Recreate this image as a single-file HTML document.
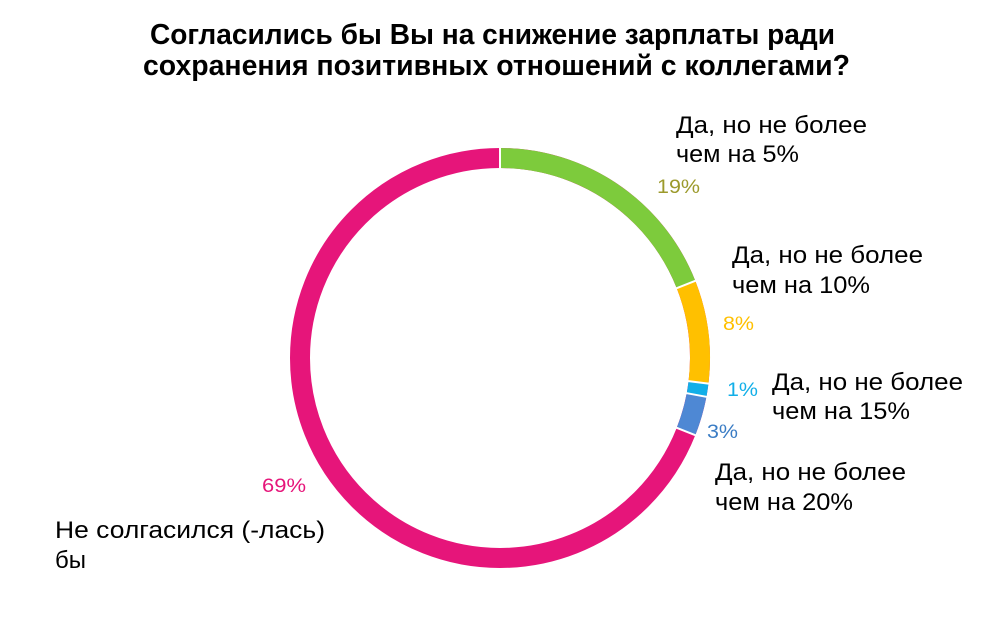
<!DOCTYPE html>
<html><head><meta charset="utf-8"><style>
body{margin:0;width:1000px;height:630px;background:#fff;overflow:hidden}
svg text{font-family:"Liberation Sans",Arial,sans-serif}
</style></head><body>
<svg width="1000" height="630" viewBox="0 0 1000 630">
<text x="150" y="44" font-size="29" font-weight="bold" fill="#000" textLength="685" lengthAdjust="spacingAndGlyphs">Согласились бы Вы на снижение зарплаты ради</text>
<text x="143" y="75" font-size="29" font-weight="bold" fill="#000" textLength="707" lengthAdjust="spacingAndGlyphs">сохранения позитивных отношений с коллегами?</text>
<g transform="translate(500,358) rotate(-90)" fill="none" stroke-width="20">
<circle r="200" stroke="#e6157a"/>
<path d="M200,0 A200,200 0 0 1 73.5,186.0" stroke="#7dcb3c"/>
<path d="M73.5,186.0 A200,200 0 0 1 -24.4,198.5" stroke="#ffc000"/>
<path d="M-24.4,198.5 A200,200 0 0 1 -37.0,196.6" stroke="#12afe8"/>
<path d="M-37.0,196.6 A200,200 0 0 1 -73.5,186.0" stroke="#4e88d4"/>
<g stroke="#fff" stroke-width="2">
<line x1="188" y1="0" x2="212" y2="0"/>
<line x1="69.1" y1="174.8" x2="77.9" y2="197.2"/>
<line x1="-22.9" y1="186.6" x2="-25.9" y2="210.4"/>
<line x1="-34.8" y1="184.8" x2="-39.2" y2="208.4"/>
<line x1="-69.1" y1="174.8" x2="-77.9" y2="197.2"/>
</g>
</g>
<g font-size="24" fill="#000">
<text x="676" y="133" textLength="191" lengthAdjust="spacingAndGlyphs">Да, но не более</text>
<text x="676" y="162" textLength="123" lengthAdjust="spacingAndGlyphs">чем на 5%</text>
<text x="732" y="263" textLength="191" lengthAdjust="spacingAndGlyphs">Да, но не более</text>
<text x="732" y="293" textLength="138" lengthAdjust="spacingAndGlyphs">чем на 10%</text>
<text x="772" y="390" textLength="191" lengthAdjust="spacingAndGlyphs">Да, но не более</text>
<text x="772" y="419" textLength="138" lengthAdjust="spacingAndGlyphs">чем на 15%</text>
<text x="715" y="480" textLength="191" lengthAdjust="spacingAndGlyphs">Да, но не более</text>
<text x="715" y="510" textLength="138" lengthAdjust="spacingAndGlyphs">чем на 20%</text>
<text x="55" y="538" textLength="270" lengthAdjust="spacingAndGlyphs">Не солгасился (-лась)</text>
<text x="55" y="568">бы</text>
</g>
<g font-size="19">
<text x="657" y="193" fill="#9c9a2c" textLength="43" lengthAdjust="spacingAndGlyphs">19%</text>
<text x="723" y="330" fill="#ffc000" textLength="31" lengthAdjust="spacingAndGlyphs">8%</text>
<text x="727" y="396" fill="#12afe8" textLength="31" lengthAdjust="spacingAndGlyphs">1%</text>
<text x="707" y="438" fill="#3a7cc4" textLength="31" lengthAdjust="spacingAndGlyphs">3%</text>
<text x="262" y="492" fill="#e6157a" textLength="44" lengthAdjust="spacingAndGlyphs">69%</text>
</g>
</svg>
</body></html>
